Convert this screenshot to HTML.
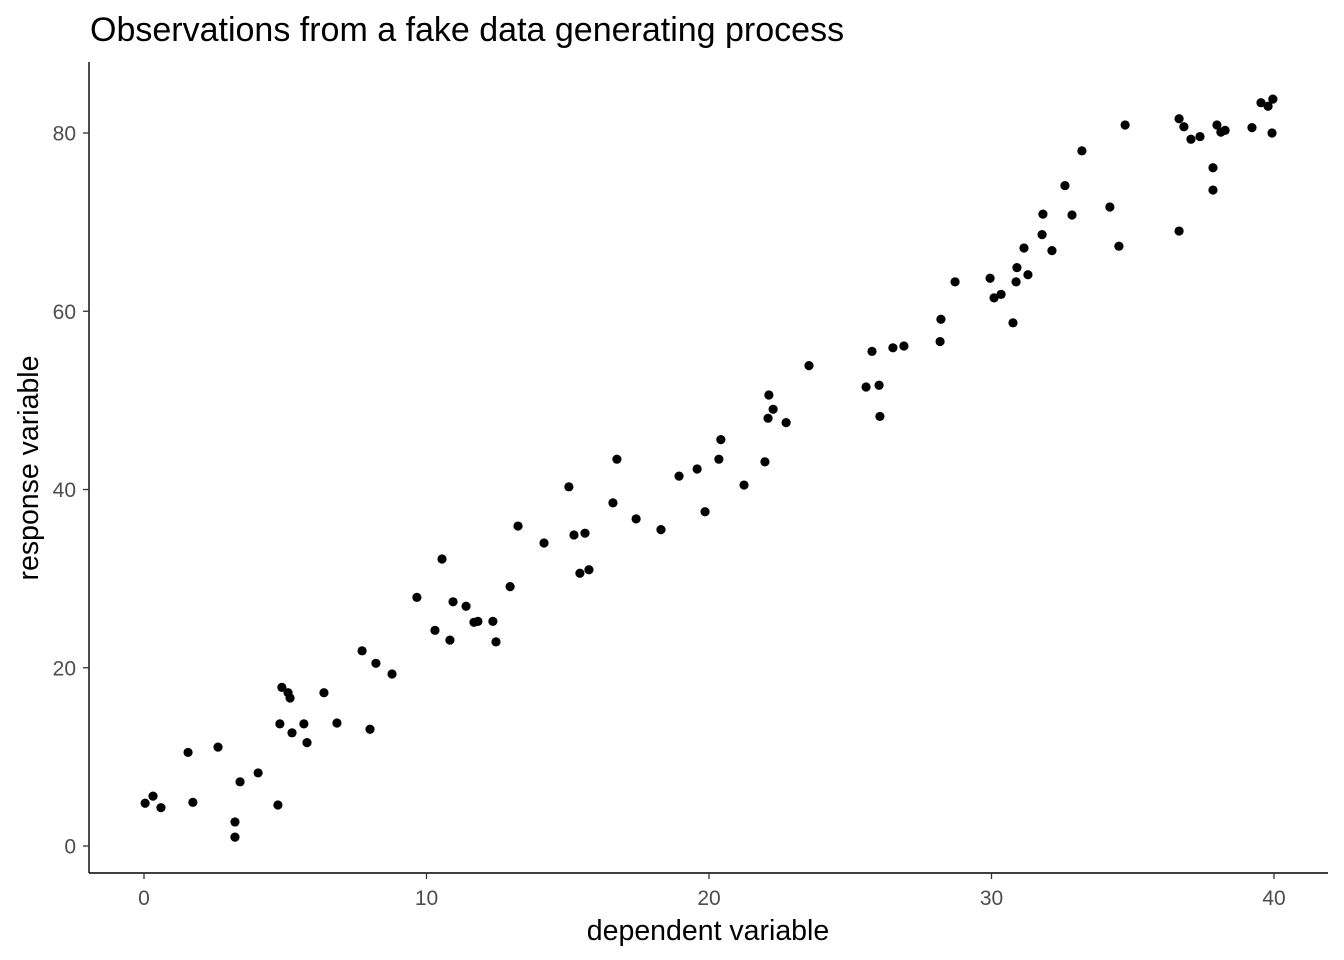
<!DOCTYPE html>
<html><head><meta charset="utf-8"><style>
html,body{margin:0;padding:0;background:#fff;}
svg{display:block;font-family:"Liberation Sans",sans-serif;}
</style></head><body>
<svg id="chart" width="1344" height="960" xmlns="http://www.w3.org/2000/svg">
<text x="90" y="41" font-size="34" fill="#000">Observations from a fake data generating process</text>
<g id="axes"></g>
<g id="points"></g>
<text x="708" y="940" font-size="28.5" text-anchor="middle" fill="#000">dependent variable</text>
<text transform="translate(38,468) rotate(-90)" font-size="28.5" text-anchor="middle" fill="#000">response variable</text>
</svg>
<script>
const xVals=[0.04,0.32,0.6,1.56,1.73,2.62,3.22,3.22,3.4,4.04,4.74,4.81,4.88,5.1,5.17,5.24,5.66,5.77,6.37,6.83,7.72,8.0,8.21,8.78,9.66,10.3,10.55,10.83,10.94,11.4,11.68,11.82,12.35,12.46,12.96,13.24,14.16,15.04,15.22,15.43,15.61,15.75,16.6,16.74,17.42,18.3,18.94,19.58,19.86,20.35,20.42,21.24,21.98,22.09,22.12,22.27,22.73,23.54,25.56,25.77,26.02,26.05,26.51,26.9,28.18,28.21,28.71,29.95,30.09,30.34,30.76,30.87,30.9,31.15,31.29,31.79,31.82,32.14,32.6,32.85,33.2,34.19,34.51,34.73,36.64,36.64,36.81,37.06,37.38,37.84,37.84,37.98,38.12,38.27,39.22,39.54,39.79,39.96,39.93];
const yVals=[4.8,5.6,4.3,10.5,4.9,11.1,2.7,1.0,7.2,8.2,4.6,13.7,17.8,17.2,16.6,12.7,13.7,11.6,17.2,13.8,21.9,13.1,20.5,19.3,27.9,24.2,32.2,23.1,27.4,26.9,25.1,25.2,25.2,22.9,29.1,35.9,34.0,40.3,34.9,30.6,35.1,31.0,38.5,43.4,36.7,35.5,41.5,42.3,37.5,43.4,45.6,40.5,43.1,48.0,50.6,49.0,47.5,53.9,51.5,55.5,51.7,48.2,55.9,56.1,56.6,59.1,63.3,63.7,61.5,61.9,58.7,63.3,64.9,67.1,64.1,68.6,70.9,66.8,74.1,70.8,78.0,71.7,67.3,80.9,69.0,81.6,80.7,79.3,79.6,76.1,73.6,80.9,80.1,80.3,80.6,83.4,83.0,83.8,80.0];
const xTicks=[0,10,20,30,40];
const yTicks=[0,20,40,60,80];
const NS="http://www.w3.org/2000/svg";
const sx=v=>144+v*28.25;
const sy=v=>846-v*8.9125;
function mk(tag,attrs,parent){const e=document.createElementNS(NS,tag);for(const k in attrs)e.setAttribute(k,attrs[k]);parent.appendChild(e);return e;}
const axes=document.getElementById('axes');
const yl=mk('line',{x1:89,y1:62,x2:89,y2:873,stroke:'#000','stroke-width':1.4},axes);


const xl=mk('line',{x1:89,y1:873,x2:1328,y2:873,stroke:'#000','stroke-width':1.4},axes);


xTicks.forEach(t=>{
 const tk=mk('line',{x1:sx(t),y1:873,x2:sx(t),y2:879,stroke:'#333','stroke-width':1.3},axes);
 
 
 const tx=mk('text',{x:sx(t),y:905,'font-size':21,'text-anchor':'middle',fill:'#4d4d4d'},axes);
 tx.textContent=t;
 
 
});
yTicks.forEach(t=>{
 const tk=mk('line',{x1:83,y1:sy(t),x2:89,y2:sy(t),stroke:'#333','stroke-width':1.3},axes);
 
 
 const tx=mk('text',{x:76,y:sy(t)+7.5,'font-size':21,'text-anchor':'end',fill:'#4d4d4d'},axes);
 tx.textContent=t;
 
 
});
const pts=document.getElementById('points');
xVals.forEach((x,i)=>{
 const c=mk('circle',{cx:sx(x),cy:sy(yVals[i]),r:4.6,fill:'#000'},pts);
 
 
});
</script>
</body></html>
